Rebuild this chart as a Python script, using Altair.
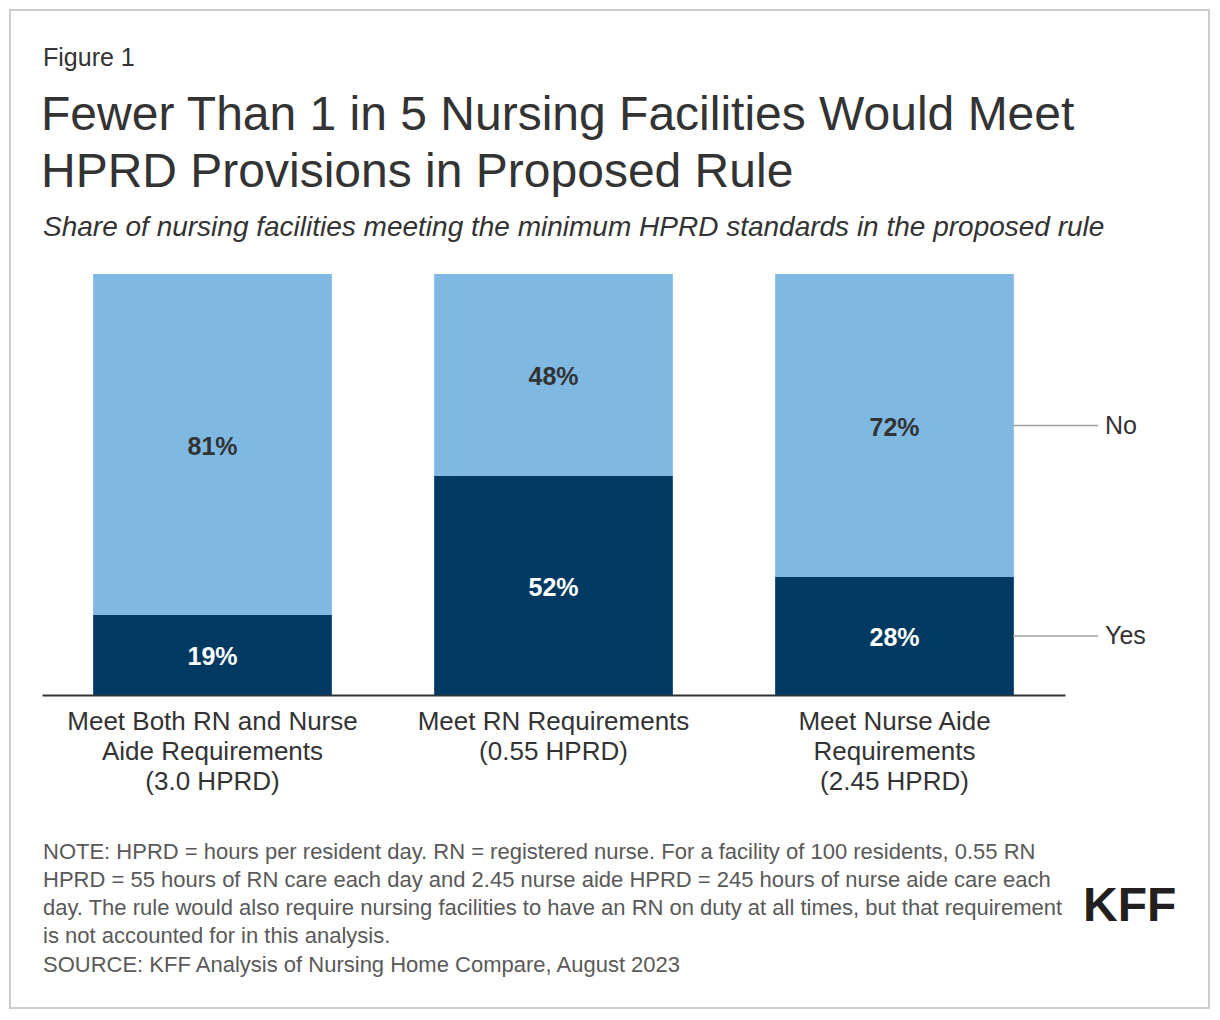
import altair as alt
import pandas as pd

categories = [
    "Meet Both RN and Nurse|Aide Requirements|(3.0 HPRD)",
    "Meet RN Requirements|(0.55 HPRD)",
    "Meet Nurse Aide|Requirements|(2.45 HPRD)",
]
yes_values = [19, 52, 28]
no_values = [81, 48, 72]
responses = ["Yes", "No"]

figure_label = "Figure 1"
title_lines = [
    "Fewer Than 1 in 5 Nursing Facilities Would Meet",
    "HPRD Provisions in Proposed Rule",
]
subtitle = "Share of nursing facilities meeting the minimum HPRD standards in the proposed rule"
note_lines = [
    "NOTE: HPRD = hours per resident day. RN = registered nurse. For a facility of 100 residents, 0.55 RN",
    "HPRD = 55 hours of RN care each day and 2.45 nurse aide HPRD = 245 hours of nurse aide care each",
    "day. The rule would also require nursing facilities to have an RN on duty at all times, but that requirement",
    "is not accounted for in this analysis.",
]
source_line = "SOURCE: KFF Analysis of Nursing Home Compare, August 2023"
logo = "KFF"

DARK = "#003a63"
LIGHT = "#7fb9e2"
TEXT = "#333333"
FONT = "Liberation Sans"

rows = []
for i, c in enumerate(categories):
    rows.append({"category": c, "response": "Yes", "value": yes_values[i], "order": 0})
    rows.append({"category": c, "response": "No", "value": no_values[i], "order": 1})
df = pd.DataFrame(rows)

base = alt.Chart(df).transform_stack(
    stack="value", as_=["v0", "v1"], groupby=["category"],
    sort=[alt.SortField("order", order="ascending")],
).transform_calculate(mid="(datum.v0 + datum.v1) / 2", label="datum.value + '%'")

xenc = alt.X(
    "category:N", sort=categories, title=None,
    scale=alt.Scale(paddingInner=0.3, paddingOuter=0.15),
    axis=alt.Axis(
        labelExpr="split(datum.label, '|')", labelAngle=0, labelFontSize=26,
        labelColor=TEXT, labelFont=FONT, labelLineHeight=30, labelPadding=13,
        ticks=False, domainColor="#333333", domainWidth=2, labelLimit=400,
    ),
)
yscale = alt.Scale(domain=[0, 100])

bars = base.mark_bar().encode(
    x=xenc,
    y=alt.Y("v0:Q", scale=yscale, axis=None),
    y2="v1:Q",
    color=alt.Color("response:N", scale=alt.Scale(domain=responses, range=[DARK, LIGHT]), legend=None),
)

labels = base.mark_text(fontSize=25, fontWeight="bold", font=FONT, baseline="middle", dy=2).encode(
    x=alt.X("category:N", sort=categories),
    y=alt.Y("mid:Q", scale=yscale),
    text=alt.Text("label:N"),
    color=alt.condition(alt.datum.response == "Yes", alt.value("#ffffff"), alt.value(TEXT)),
)

last = base.transform_filter(alt.datum.category == categories[-1])
leg_rules = last.mark_rule(color="#a0a0a0", strokeWidth=1.5).encode(
    y=alt.Y("mid:Q", scale=yscale), x=alt.value(971), x2=alt.value(1056)
)
leg_text = last.mark_text(align="left", baseline="middle", fontSize=25, font=FONT, color=TEXT).encode(
    y=alt.Y("mid:Q", scale=yscale), x=alt.value(1063), text="response:N"
)

one = alt.Chart(pd.DataFrame({"a": [0]}))
border = one.mark_rect(filled=False, stroke="#cccccc", strokeWidth=2).encode(
    x=alt.value(-32), x2=alt.value(1167), y=alt.value(-264), y2=alt.value(734)
)
fig_txt = one.mark_text(align="left", baseline="alphabetic", fontSize=25, font=FONT, color=TEXT).encode(
    x=alt.value(1), y=alt.value(-208), text=alt.value(figure_label)
)
title_txt = one.mark_text(align="left", baseline="alphabetic", fontSize=48, font=FONT, color=TEXT, lineHeight=57).encode(
    x=alt.value(-1), y=alt.value(-144), text=alt.value(title_lines)
)
sub_txt = one.mark_text(align="left", baseline="alphabetic", fontSize=28, font=FONT, fontStyle="italic", color=TEXT).encode(
    x=alt.value(1), y=alt.value(-38), text=alt.value(subtitle)
)
note_txt = one.mark_text(align="left", baseline="alphabetic", fontSize=22, font=FONT, color="#595959", lineHeight=28).encode(
    x=alt.value(1), y=alt.value(585), text=alt.value(note_lines)
)
src_txt = one.mark_text(align="left", baseline="alphabetic", fontSize=22, font=FONT, color="#595959").encode(
    x=alt.value(1), y=alt.value(698), text=alt.value(source_line)
)
logo_txt = one.mark_text(align="left", baseline="alphabetic", fontSize=48, font=FONT, fontWeight="bold", color="#231f20").encode(
    x=alt.value(1041), y=alt.value(647), text=alt.value(logo)
)

chart = alt.layer(
    border, bars, labels, leg_rules, leg_text, fig_txt, title_txt, sub_txt, note_txt, src_txt, logo_txt
).properties(
    width=1023, height=421,
    autosize=alt.AutoSizeParams(type="none"),
    padding={"left": 34, "top": 266, "right": 147, "bottom": 317},
    background="white",
).configure_view(stroke=None)

chart.save("out.html", embed_options={"renderer": "svg", "actions": False})
